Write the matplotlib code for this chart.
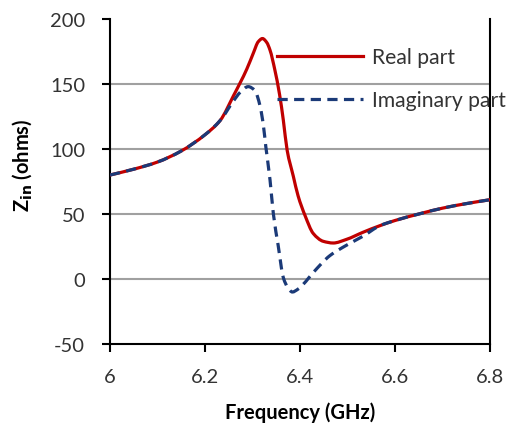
import numpy as np
import matplotlib
matplotlib.use("Agg")
import matplotlib.pyplot as plt
from matplotlib.path import Path
from matplotlib.patches import PathPatch
from matplotlib.lines import Line2D

plt.rcParams['font.family'] = ['Lato', 'DejaVu Sans']
plt.rcParams['axes.unicode_minus'] = False

# input impedance vs frequency
freq_real = [6.0, 6.05, 6.1, 6.15, 6.2, 6.232, 6.26, 6.288, 6.302, 6.312, 6.321, 6.33,
             6.337, 6.347, 6.357, 6.365, 6.373, 6.386, 6.396, 6.411, 6.428, 6.449,
             6.47, 6.498, 6.533, 6.568, 6.6, 6.65, 6.7, 6.75, 6.8]
z_real = [80, 84.5, 90, 98.5, 111, 122, 141, 161.5, 174, 182.5, 185, 182,
          176, 161, 142, 122, 99, 79, 64, 48.5, 35, 29,
          27.7, 30.5, 36, 41, 45, 50, 54.5, 58, 61]

freq_imag = [6.0, 6.05, 6.1, 6.15, 6.2, 6.232, 6.26, 6.274, 6.291, 6.305, 6.316, 6.323,
             6.328, 6.337, 6.344, 6.354, 6.365, 6.375, 6.384, 6.395, 6.407, 6.428,
             6.463, 6.498, 6.533, 6.568, 6.6, 6.65, 6.7, 6.75, 6.8]
z_imag = [80, 84.5, 90, 98.5, 111, 122, 137, 143.6, 148, 145, 133, 118,
          102, 76, 50, 26, 1, -7, -10, -8, -4, 5,
          18, 26, 33, 41, 45, 50, 54.5, 58, 61]

xticks = [6, 6.2, 6.4, 6.6, 6.8]
yticks = [-50, 0, 50, 100, 150, 200]


def smooth_path(x, y):
    # monotone cubic (Fritsch-Carlson) through the points, as bezier segments
    x = np.asarray(x, float)
    y = np.asarray(y, float)
    h = np.diff(x)
    d = np.diff(y) / h
    m = np.zeros_like(y)
    m[0], m[-1] = d[0], d[-1]
    for k in range(1, len(x) - 1):
        if d[k-1] * d[k] > 0:
            w1 = 2*h[k] + h[k-1]
            w2 = h[k] + 2*h[k-1]
            m[k] = (w1 + w2) / (w1/d[k-1] + w2/d[k])
    verts = [(x[0], y[0])]
    codes = [Path.MOVETO]
    for k in range(len(x) - 1):
        verts += [(x[k] + h[k]/3, y[k] + m[k]*h[k]/3),
                  (x[k+1] - h[k]/3, y[k+1] - m[k+1]*h[k]/3),
                  (x[k+1], y[k+1])]
        codes += [Path.CURVE4]*3
    return Path(verts, codes)


fig = plt.figure(figsize=(5.1, 4.35), dpi=100)
ax = fig.add_axes([0.2157, 0.2069, 0.745, 0.747])

for yv in [0, 50, 100, 150]:
    ax.axhline(yv, color='#a0a0a0', lw=1.5, zorder=1)

red = '#C00000'
navy = '#1B3A78'
ax.add_patch(PathPatch(smooth_path(freq_real, z_real), fill=False, edgecolor=red,
                       lw=2.3, zorder=3, capstyle='round'))
ax.add_patch(PathPatch(smooth_path(freq_imag, z_imag), fill=False, edgecolor=navy,
                       lw=2.3, linestyle=(0, (3.2, 2.0)), zorder=4))

ax.set_xlim(6, 6.8)
ax.set_ylim(-50, 200)
ax.set_xticks(xticks)
ax.set_xticklabels(['6', '6.2', '6.4', '6.6', '6.8'])
ax.set_yticks(yticks)
ax.tick_params(direction='out', length=6, width=1.5, labelsize=14.5,
               labelcolor='#333333')
ax.tick_params(axis='x', pad=11)
ax.tick_params(axis='y', pad=12)
ax.spines['top'].set_visible(False)
for s in ['left', 'bottom', 'right']:
    ax.spines[s].set_linewidth(1.5)

ax.set_xlabel('Frequency (GHz)', fontsize=14.5, fontweight='bold', labelpad=12)
ax.set_ylabel(r'Z$_{\mathbf{in}}$ (ohms)', fontsize=14.5, fontweight='bold')
ax.yaxis.set_label_coords(-0.2, 0.554)

handles = [Line2D([], [], color=red, lw=2.3),
           Line2D([], [], color=navy, lw=2.3, dashes=(3.2, 2.0))]
ax.legend(handles, ['Real part', 'Imaginary part'], loc='upper left',
          bbox_to_anchor=(0.39, 0.972), frameon=False, fontsize=15.2,
          handlelength=4.05, handletextpad=0.42, labelspacing=1.1,
          labelcolor='#333333')

fig.savefig('out.png', dpi=100)
